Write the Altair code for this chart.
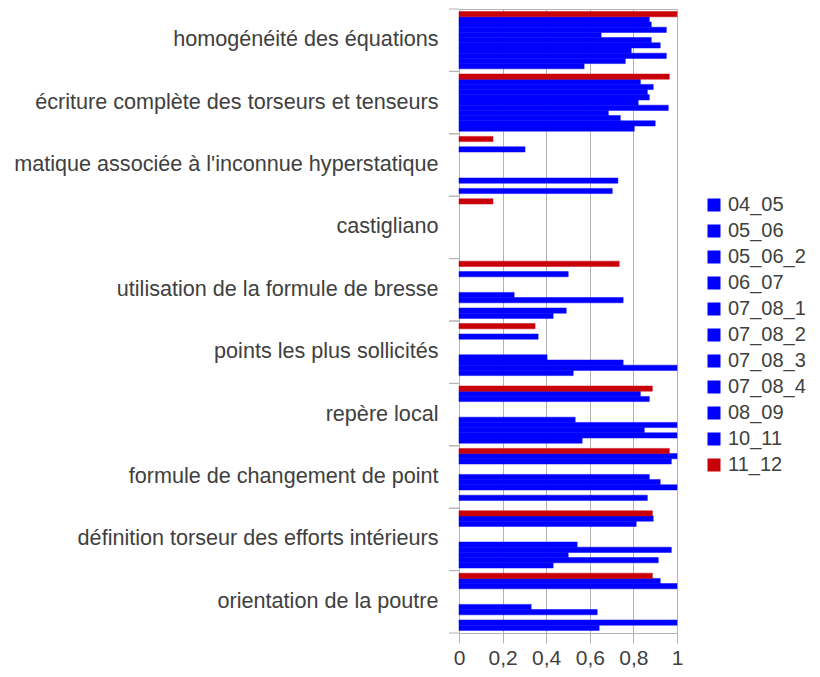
import altair as alt
import pandas as pd

categories = [
    "homogénéité des équations",
    "écriture complète des torseurs et tenseurs",
    "matique associée à l'inconnue hyperstatique",
    "castigliano",
    "utilisation de la formule de bresse",
    "points les plus sollicités",
    "repère local",
    "formule de changement de point",
    "définition torseur des efforts intérieurs",
    "orientation de la poutre",
]

# legend order
series = ["04_05", "05_06", "05_06_2", "06_07", "07_08_1", "07_08_2",
          "07_08_3", "07_08_4", "08_09", "10_11", "11_12"]

# values per series, one per category (None = no bar)
v_04_05   = [0.574, 0.804, 0.703, None, 0.432, None,  0.565, None,  0.432, 0.643]
v_05_06   = [0.763, 0.900, None,  None, 0.492, 0.524, 1.000, 0.864, 0.914, 1.000]
v_05_06_2 = [0.951, 0.740, 0.729, None, None,  1.000, 0.850, None,  0.501, None]
v_06_07   = [0.790, 0.685, None,  None, 0.753, 0.753, 1.000, 1.000, 0.974, 0.634]
v_07_08_1 = [0.923, 0.960, None,  None, 0.253, 0.404, 0.533, 0.923, 0.542, 0.331]
v_07_08_2 = [0.882, 0.822, None,  None, None,  None,  None,  0.873, None,  None]
v_07_08_3 = [0.652, 0.873, None,  None, None,  None,  None,  None,  None,  None]
v_07_08_4 = [0.951, 0.864, None,  None, None,  None,  None,  None,  None,  None]
v_08_09   = [0.882, 0.891, 0.303, None, 0.501, 0.363, 0.873, 0.974, 0.813, 1.000]
v_10_11   = [0.873, 0.832, None,  None, None,  None,  0.832, 1.000, 0.891, 0.923]
v_11_12   = [1.000, 0.965, 0.156, 0.156, 0.735, 0.349, 0.887, 0.965, 0.887, 0.887]

values = [v_04_05, v_05_06, v_05_06_2, v_06_07, v_07_08_1, v_07_08_2,
          v_07_08_3, v_07_08_4, v_08_09, v_10_11, v_11_12]

colors = ["#0000ff"] * 10 + ["#c8000a"]

rows = []
for s, vals in zip(series, values):
    for c, v in zip(categories, vals):
        if v is not None:
            rows.append({"cat": c, "serie": s, "val": v})
df = pd.DataFrame(rows)
cat_df = pd.DataFrame({"cat": categories})

FONT = "Liberation Sans"
TXT = "#404040"
GRID = "#b3b3b3"

yscale = alt.Scale(domain=categories, paddingInner=0, paddingOuter=0)
cscale = alt.Scale(domain=series, range=colors)

bars = alt.Chart(df).mark_bar(strokeWidth=0.5).encode(
    x=alt.X("val:Q", title=None,
            scale=alt.Scale(domain=[0, 1], nice=False),
            axis=alt.Axis(values=[0, 0.2, 0.4, 0.6, 0.8, 1],
                          labelExpr="replace(format(datum.value, '.1~f'), '.', ',')",
                          grid=True, gridColor=GRID, domain=False,
                          tickColor=GRID, tickSize=10, labelPadding=4,
                          labelFlush=False,
                          labelFontSize=21, labelColor=TXT, labelFont=FONT)),
    y=alt.Y("cat:N", title=None, scale=yscale, sort=categories,
            axis=alt.Axis(ticks=False, domain=False, labelPadding=21,
                          labelFontSize=21.6, labelColor=TXT, labelFont=FONT,
                          labelLimit=1000)),
    yOffset=alt.YOffset("serie:N", sort=series[::-1],
                        scale=alt.Scale(domain=series[::-1], paddingInner=0,
                                        paddingOuter=0.5)),
    color=alt.Color("serie:N", scale=cscale,
                    legend=alt.Legend(title=None, orient="none",
                                      legendX=245, legendY=186,
                                      symbolType="square", symbolSize=169,
                                      symbolStrokeWidth=0, labelFontSize=20,
                                      labelFont=FONT, labelColor=TXT,
                                      labelOffset=4, rowPadding=6,
                                      padding=0)),
    stroke=alt.Stroke("serie:N", scale=cscale, legend=None),
)

ticks_top = alt.Chart(cat_df).mark_rule(color=GRID).encode(
    y=alt.Y("cat:N", scale=yscale, sort=categories, bandPosition=0),
    x=alt.value(-10), x2=alt.value(0),
)
ticks_bottom = alt.Chart(cat_df).mark_rule(color=GRID).encode(
    y=alt.Y("cat:N", scale=yscale, sort=categories, bandPosition=1),
    x=alt.value(-10), x2=alt.value(0),
)

chart = alt.layer(bars, ticks_top, ticks_bottom).properties(
    width=218, height=624,
    autosize=alt.AutoSizeParams(type="none"),
    padding={"left": 451, "top": 1, "right": 134, "bottom": 36},
).configure_view(stroke=GRID, strokeWidth=1)

chart.save("out.html", embed_options={"renderer": "svg", "actions": False})
